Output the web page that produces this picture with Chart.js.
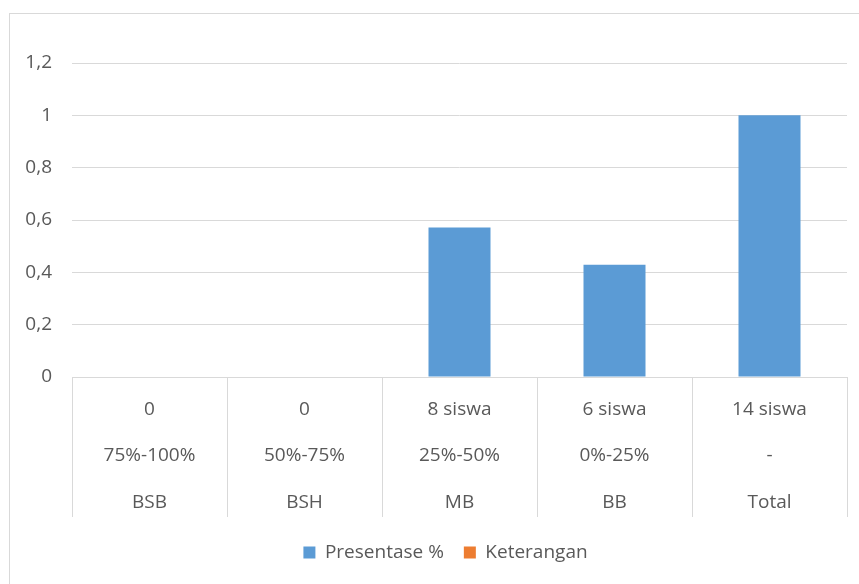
<!DOCTYPE html>
<html>
<head>
<meta charset="utf-8">
<script src="https://cdn.jsdelivr.net/npm/chart.js@4"></script>
<style>
  body { margin: 0; background: #fff; }
  #frame { position: absolute; left: 9px; top: 13px; width: 870px; height: 600px; border: 1px solid #d9d9d9; }
  #wrap { position: absolute; left: 0; top: 0; width: 859px; height: 584px; }
</style>
</head>
<body>
<div id="frame"></div>
<div id="wrap"><canvas id="chart" width="859" height="584"></canvas></div>
<script>
const counts = ['0', '0', '8 siswa', '6 siswa', '14 siswa'];
const ranges = ['75%-100%', '50%-75%', '25%-50%', '0%-25%', '-'];
const levels = ['BSB', 'BSH', 'MB', 'BB', 'Total'];
const presentase = [0, 0, 0.5714, 0.4286, 1];
const keterangan = [0, 0, 0, 0, 0];

const labels = levels.map((l, i) => [counts[i], ranges[i], l]);
const font = { family: '"Open Sans", sans-serif', size: 19 };
const grey = '#595959';
const line = '#d9d9d9';

// nudge the legend a bit to the right, like the original
const legendShift = {
    id: 'legendShift',
    afterLayout(chart) {
        chart.legend.left += 22;
        chart.legend.right += 22;
    }
};

new Chart(document.getElementById('chart').getContext('2d'), {
    type: 'bar',
    data: {
        labels: labels,
        datasets: [
            { label: 'Presentase %', data: presentase, backgroundColor: '#5B9BD5', borderWidth: 0 },
            { label: 'Keterangan', data: keterangan, backgroundColor: '#ED7D31', borderWidth: 0 }
        ]
    },
    options: {
        responsive: false,
        animation: false,
        grouped: false,
        categoryPercentage: 1,
        barPercentage: 0.4,
        layout: { padding: { top: 63, right: 12, left: 0, bottom: 12 } },
        plugins: {
            tooltip: { enabled: false },
            legend: {
                position: 'bottom',
                labels: { font: font, color: grey, boxWidth: 12, boxHeight: 12, padding: 20 }
            }
        },
        scales: {
            x: {
                grid: { offset: true, drawOnChartArea: false, drawTicks: true, tickLength: 140, color: line },
                border: { color: line },
                ticks: { font: { ...font, lineHeight: 2.45 }, color: grey, padding: -131, maxRotation: 0, autoSkip: false },
                afterFit: s => { s.height = 146; }
            },
            y: {
                min: 0, max: 1.2,
                grid: { color: line, drawTicks: false },
                border: { display: false },
                ticks: {
                    stepSize: 0.2, font: font, color: grey, padding: 20,
                    callback: v => String(+v.toFixed(1)).replace('.', ',')
                },
                afterFit: s => { s.width = 72; }
            }
        }
    },
    plugins: [legendShift]
});
</script>
</body>
</html>
